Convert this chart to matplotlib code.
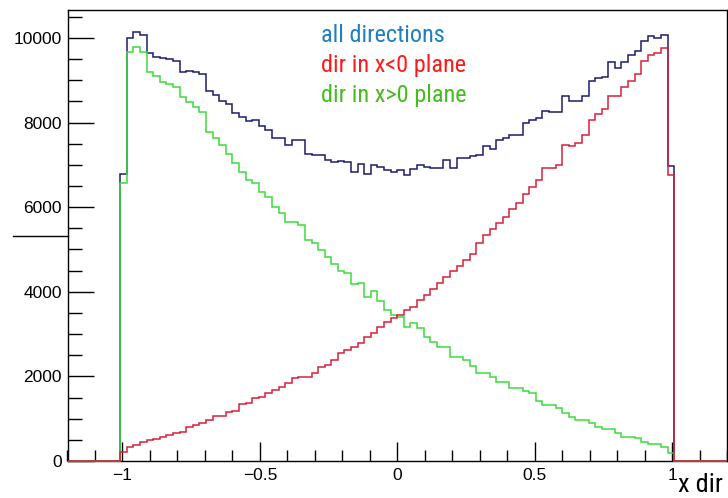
import numpy as np
import matplotlib.pyplot as plt
from matplotlib.lines import Line2D
from matplotlib.ticker import MultipleLocator

# 100 bins on [-1.2, 1.2]; only bins 8..91 have entries
x_lo, x_hi, n_bins = -1.2, 1.2, 100
first_bin = 8

all_dir = [6785, 9992, 10150, 10071, 9653, 9558, 9519, 9496, 9456, 9203,
           9227, 9203, 9149, 8754, 8652, 8520, 8439, 8219, 8120, 8040,
           8050, 7925, 7825, 7640, 7640, 7480, 7595, 7595, 7245, 7230,
           7230, 7116, 7076, 7100, 7065, 6820, 7020, 6780, 7000, 6940,
           6880, 6820, 6870, 6770, 6900, 6997, 6958, 6934, 6934, 7116,
           6919, 7155, 7155, 7210, 7225, 7440, 7370, 7588, 7640, 7700,
           7715, 7990, 8065, 8100, 8278, 8238, 8242, 8633, 8506, 8506,
           8633, 8980, 9055, 9066, 9428, 9294, 9420, 9590, 9696, 9932,
           10040, 9988, 10075, 6966]

neg_plane = [221, 323, 378, 457, 496, 512, 575, 615, 670, 693,
             811, 851, 906, 969, 1064, 1064, 1166, 1190, 1348, 1379,
             1482, 1521, 1600, 1678, 1757, 1836, 1954, 1994, 1994, 2072,
             2230, 2269, 2388, 2545, 2624, 2703, 2782, 2939, 3018, 3176,
             3294, 3373, 3451, 3570, 3648, 3806, 3930, 4070, 4200, 4350,
             4480, 4600, 4750, 4900, 5146, 5343, 5477, 5619, 5776, 5950,
             6092, 6312, 6485, 6650, 6925, 6934, 6997, 7470, 7440, 7510,
             7707, 8050, 8200, 8315, 8630, 8630, 8840, 8975, 9145, 9450,
             9605, 9637, 9765, 6761]

pos_plane = [6565, 9676, 9794, 9676, 9203, 9101, 8967, 8912, 8833, 8600,
             8480, 8376, 8258, 7785, 7629, 7470, 7258, 7052, 6820, 6643,
             6564, 6360, 6249, 6013, 5855, 5658, 5658, 5579, 5224, 5146,
             4990, 4830, 4650, 4500, 4436, 4180, 4200, 3885, 4026, 3790,
             3570, 3460, 3412, 3176, 3255, 3137, 2939, 2821, 2703, 2703,
             2466, 2466, 2388, 2254, 2072, 2072, 1994, 1876, 1876, 1718,
             1718, 1655, 1600, 1415, 1324, 1324, 1245, 1143, 1032, 969,
             969, 906, 796, 764, 764, 654, 575, 575, 536, 457,
             402, 402, 323, 197]

labels = ["all directions", "dir in x<0 plane", "dir in x>0 plane"]
label_colors = ["#1f7fc0", "#ff1a1a", "#44bb22"]
line_colors = ["#1c1c70", "#d8203a", "#3cdc3c"]

edges = np.linspace(x_lo, x_hi, n_bins + 1)


def pad(vals):
    out = np.zeros(n_bins)
    out[first_bin:first_bin + len(vals)] = vals
    return out


narrow = ["Roboto Condensed", "Roboto"]

W, H = 728, 498
fig = plt.figure(figsize=(W / 100, H / 100), dpi=100)
ax = fig.add_axes([67.5 / W, 1 - 461 / H, (727 - 67.5) / W, (461 - 10) / H])

ax.stairs(pad(all_dir), edges, color=line_colors[0], lw=1.1, clip_on=False, zorder=3)
ax.stairs(pad(pos_plane), edges, color=line_colors[2], lw=1.1, clip_on=False, zorder=3)
ax.stairs(pad(neg_plane), edges, color=line_colors[1], lw=1.1, clip_on=False, zorder=3)

ax.set_xlim(x_lo, x_hi)
ax.set_ylim(0, 10660)

ax.xaxis.set_major_locator(MultipleLocator(0.5))
ax.xaxis.set_minor_locator(MultipleLocator(0.1))
ax.yaxis.set_major_locator(MultipleLocator(2000))
ax.yaxis.set_minor_locator(MultipleLocator(500))
ax.xaxis.set_major_formatter(lambda v, p: f"{v:g}".replace("-", "\u2212"))

ax.tick_params(axis="y", which="major", direction="in", length=19, width=1, pad=4,
               labelsize=12.5, right=False)
ax.tick_params(axis="y", which="minor", direction="in", length=10, width=1, right=False)
ax.tick_params(axis="x", which="major", direction="in", length=14, width=1, pad=5,
               labelsize=12.5, top=False)
ax.tick_params(axis="x", which="minor", direction="in", length=8, width=1, top=False)
for lab in ax.get_xticklabels() + ax.get_yticklabels():
    lab.set_family(["Liberation Sans", "DejaVu Sans"])
for sp in ax.spines.values():
    sp.set_linewidth(1)

# text block
for i, (t, c) in enumerate(zip(labels, label_colors)):
    fig.text(321 / W, 1 - (42 + 30 * i) / H, t, color=c, fontsize=17.5,
             family=narrow, fontstretch="condensed", va="baseline")

fig.text(678 / W, 1 - 492 / H, "x dir", color="black", fontsize=19,
         family=narrow, fontstretch="condensed", va="baseline")

# stray tick line left of the axis in the original
fig.add_artist(Line2D([13 / W, 67.5 / W], [1 - 236 / H, 1 - 236 / H],
                      color="black", lw=1))

fig.savefig("out.png", dpi=100)
